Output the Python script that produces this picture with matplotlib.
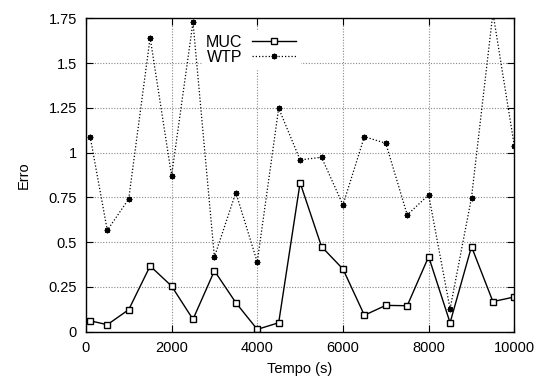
import numpy as np
import matplotlib.pyplot as plt

plt.rcParams['font.family'] = ['Liberation Sans', 'DejaVu Sans']

tempo = [100, 500, 1000, 1500, 2000, 2500, 3000, 3500, 4000, 4500, 5000,
         5500, 6000, 6500, 7000, 7500, 8000, 8500, 9000, 9500, 10000]
muc = [0.061, 0.039, 0.123, 0.367, 0.255, 0.069, 0.34, 0.162, 0.013, 0.05, 0.832,
       0.475, 0.35, 0.092, 0.147, 0.145, 0.419, 0.05, 0.475, 0.168, 0.194]
wtp = [1.089, 0.566, 0.741, 1.642, 0.871, 1.728, 0.417, 0.777, 0.389, 1.248, 0.959,
       0.974, 0.708, 1.089, 1.052, 0.652, 0.764, 0.127, 0.749, 1.78, 1.037]

xticks = [0, 2000, 4000, 6000, 8000, 10000]
yticks = [0, 0.25, 0.5, 0.75, 1, 1.25, 1.5, 1.75]
yticklabels = ['0', '0.25', '0.5', '0.75', '1', '1.25', '1.5', '1.75']

fig = plt.figure(figsize=(5.4, 3.79), dpi=100)
ax = fig.add_axes([0.159, 0.1248, 0.7935, 0.827])

ax.plot(tempo, muc, '-', color='black', lw=1.0, marker='s', ms=5,
        mfc='white', mec='black', mew=1.0, label='MUC')
ax.plot(tempo, wtp, color='black', lw=0.9, linestyle=(0, (1, 1.6)),
        marker=(8, 2, 0), ms=4, mec='black', mew=1.0, label='WTP')

ax.set_xlim(0, 10000)
ax.set_ylim(0, 1.75)
ax.set_xticks(xticks)
ax.set_yticks(yticks)
ax.set_yticklabels(yticklabels)
ax.grid(True, color='#888888', linestyle=(0, (1, 1.5)), lw=0.8)
ax.tick_params(direction='in', length=5, width=0.8, top=True, right=True,
               labelsize=10.5, pad=6.5, colors='black')
for s in ax.spines.values():
    s.set_linewidth(1.0)

ax.set_xlabel('Tempo (s)', fontsize=10.5, labelpad=5)
ax.set_ylabel('Erro', fontsize=10.5, labelpad=13)

leg = ax.legend(loc='upper left', bbox_to_anchor=(0.27, 0.96), fontsize=11.5,
                markerfirst=False, handlelength=2.8, handletextpad=0.6,
                labelspacing=0.0, borderpad=0.25, frameon=True,
                fancybox=False, framealpha=1, edgecolor='white',
                facecolor='white', borderaxespad=0)
leg.set_zorder(5)

fig.savefig('out.png', dpi=100)
